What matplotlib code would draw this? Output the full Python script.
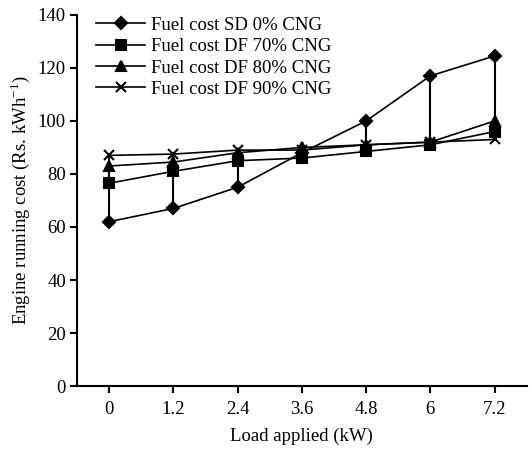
import numpy as np
import matplotlib
matplotlib.use('Agg')
import matplotlib.pyplot as plt

plt.rcParams['font.family'] = ['Liberation Serif', 'DejaVu Serif']

loads = ['0', '1.2', '2.4', '3.6', '4.8', '6', '7.2']
sd_0 = [62, 67, 75, 88, 100, 117, 124.5]
df_70 = [76.5, 81, 85, 86, 88.5, 91, 96]
df_80 = [83, 84.5, 88, 90, 91, 92, 100]
df_90 = [87, 87.5, 89, 89, 91, 92, 93]

series = [
    ('Fuel cost SD 0% CNG', sd_0, 'D', 6),
    ('Fuel cost DF 70% CNG', df_70, 's', 7),
    ('Fuel cost DF 80% CNG', df_80, '^', 7),
    ('Fuel cost DF 90% CNG', df_90, 'x', 7),
]

fig = plt.figure(figsize=(5.32, 4.51), dpi=100)
ax = fig.add_axes([0.145, 0.144, 0.845, 0.823])

x = np.arange(len(loads))
allv = np.array([s[1] for s in series])
# lignes verticales min-max a chaque charge
ax.vlines(x, allv.min(axis=0), allv.max(axis=0), color='black', lw=1.5, zorder=1)

for label, vals, m, ms in series:
    ax.plot(x, vals, color='black', lw=1.2, marker=m, markersize=ms,
            markeredgewidth=1.5, label=label, zorder=2)

ax.set_xlim(-0.5, 6.5)
ax.set_ylim(0, 140)
ax.set_yticks(np.arange(0, 141, 20))
ax.set_xticks(x)
ax.set_xticklabels(loads)
ax.spines['top'].set_visible(False)
ax.spines['right'].set_visible(False)
ax.spines['left'].set_linewidth(1.5)
ax.spines['bottom'].set_linewidth(1.5)
ax.tick_params(direction='out', length=5, width=1.5, labelsize=13.5, pad=3)
ax.tick_params(axis='x', pad=6)

ax.set_xlabel('Load applied (kW)', fontsize=13.5, labelpad=7)
ax.set_ylabel('Engine running cost (Rs. kWh$^{\\mathregular{-1}}$)', fontsize=13.5, labelpad=4)

ax.legend(loc='upper left', bbox_to_anchor=(0.005, 1.04), frameon=False,
          fontsize=13.5, handlelength=2.6, labelspacing=0.22, handletextpad=0.3)

fig.savefig('out.png', dpi=100)
